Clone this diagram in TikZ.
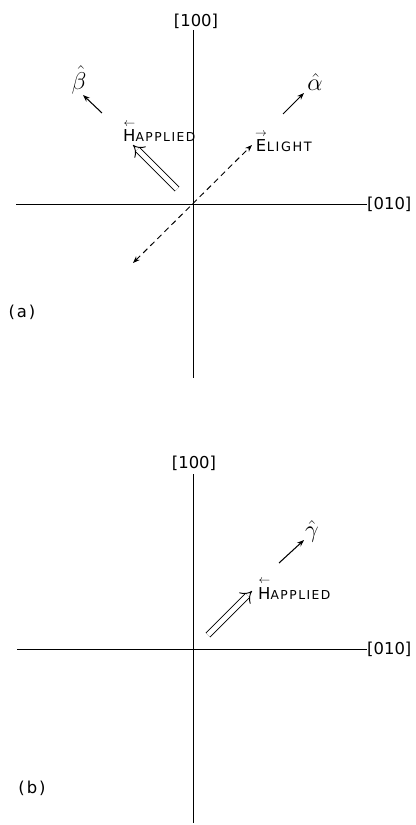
\documentclass[tikz,border=0pt]{standalone}
\usepackage{fontspec}
\usepackage{amsmath}
\setmainfont{DejaVu Sans}
\newfontfamily\lettering[LetterSpace=12]{DejaVu Sans}
\usetikzlibrary{arrows.meta}
\newcommand{\leftvec}[1]{\overset{\scriptstyle\leftarrow}{\text{#1}}}
\newcommand{\rightvec}[1]{\overset{\scriptstyle\rightarrow}{\text{#1}}}
\tikzset{
  axis/.style={line width=0.65pt},
  axislabel/.style={font=\fontsize{14}{14}\selectfont, inner sep=0pt},
  unitvec/.style={line width=0.9pt, -{Stealth[length=6pt, width=4.5pt]}},
  unitlabel/.style={font=\fontsize{21}{21}\selectfont, inner sep=0pt},
  fieldarrow/.style={line width=0.8pt, double distance=4pt, -{Implies}},
  lightarrow/.style={line width=0.8pt, dash pattern=on 5pt off 3.5pt,
    {Stealth[length=6pt, width=4.5pt]}-{Stealth[length=6pt, width=4.5pt]}},
  veclabel/.style={inner sep=0pt, anchor=base west},
  panel/.style={font=\fontsize{14}{14}\selectfont\lettering, inner sep=0pt},
}
\begin{document}
\begin{tikzpicture}[x=0.03cm, y=-0.03cm]
  \useasboundingbox (0,0) rectangle (415,825);

  % (a) axes
  \coordinate (a top) at (193,30);
  \coordinate (a bottom) at (193,378);
  \coordinate (a left) at (16,204);
  \coordinate (a right) at (367,204);
  \draw[axis] (a top) -- (a bottom);
  \draw[axis] (a left) -- (a right);
  \node[axislabel] (a100) at (196,21) {[100]};
  \node[axislabel, anchor=west] (a010) at (a right) {[010]};

  % (a) unit vectors
  \coordinate (beta from) at (102,113);
  \coordinate (beta to) at (83,95);
  \coordinate (alpha from) at (283,114);
  \coordinate (alpha to) at (304,93);
  \draw[unitvec] (beta from) -- (beta to);
  \draw[unitvec] (alpha from) -- (alpha to);
  \node[unitlabel] (beta) at (79,80) {$\hat{\beta}$};
  \node[unitlabel] (alpha) at (315,82) {$\hat{\alpha}$};

  % (a) field and light
  \coordinate (Ha from) at (177,189);
  \coordinate (Ha to) at (133,145);
  \coordinate (E from) at (133,263);
  \coordinate (E to) at (252,145);
  \draw[fieldarrow] (Ha from) -- (Ha to);
  \draw[lightarrow] (E from) -- (E to);
  \node[veclabel] (Ha) at (123,142)
    {{\fontsize{14}{14}\selectfont$\leftvec{H}$}{\fontsize{10.5}{10.5}\selectfont\lettering APPLIED}};
  \node[veclabel] (E) at (255,152)
    {{\fontsize{14}{14}\selectfont$\rightvec{E}$}{\fontsize{11}{11}\selectfont\lettering LIGHT}};
  \node[panel] (a) at (22,312) {(a)};

  % (b) axes
  \coordinate (b top) at (193,474);
  \coordinate (b bottom) at (193,823);
  \coordinate (b left) at (17,649);
  \coordinate (b right) at (367,649);
  \draw[axis] (b top) -- (b bottom);
  \draw[axis] (b left) -- (b right);
  \node[axislabel] (b100) at (194,463) {[100]};
  \node[axislabel, anchor=west] (b010) at (b right) {[010]};

  % (b) unit vector and field
  \coordinate (gamma from) at (279,563);
  \coordinate (gamma to) at (304,540);
  \draw[unitvec] (gamma from) -- (gamma to);
  \node[unitlabel] (gamma) at (312,531) {$\hat{\gamma}$};
  \coordinate (Hb from) at (208,635);
  \coordinate (Hb to) at (252,591);
  \draw[fieldarrow] (Hb from) -- (Hb to);
  \node[veclabel] (Hb) at (258,599)
    {{\fontsize{14}{14}\selectfont$\leftvec{H}$}{\fontsize{10.5}{10.5}\selectfont\lettering APPLIED}};
  \node[panel] (b) at (32,788) {(b)};
\end{tikzpicture}
\end{document}
